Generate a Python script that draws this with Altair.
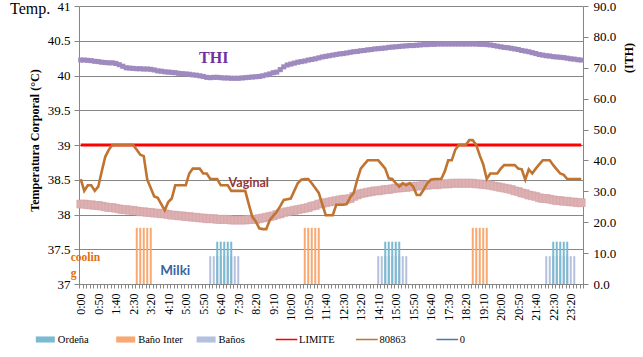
import altair as alt
import pandas as pd

# ---------------- data ----------------
times = [f"{h}:{m:02d}" for h in range(24) for m in range(0, 60, 10)]
shown_labels = times[::5]

thi = [
    72.5, 72.5, 72.4, 72.3, 72.1, 72.0,
    71.8, 71.7, 71.6, 71.6, 71.4, 71.0, 70.5,
    70.0, 69.9, 69.8, 69.7, 69.7, 69.6, 69.6,
    69.5, 69.3, 69.0, 68.9, 68.7, 68.6, 68.5, 68.4, 68.2,
    68.1, 68.0, 67.9, 67.7, 67.6, 67.4, 67.2,
    66.9, 66.8, 66.9, 66.9, 66.8, 66.7, 66.7, 66.6, 66.6,
    66.6, 66.7, 66.8, 66.9, 67.0, 67.1,
    67.2, 67.4, 67.7, 68.0,
    68.4, 68.6, 69.4, 70.3,
    70.9, 71.2, 71.5, 71.8, 72.0, 72.2, 72.5,
    72.7, 72.9, 73.2, 73.5, 73.7, 73.9, 74.1, 74.3,
    74.5, 74.6, 74.8, 75.0, 75.2, 75.3, 75.5, 75.6,
    75.8, 75.9, 76.1, 76.2,
    76.3, 76.4, 76.6, 76.7, 76.8, 76.9,
    77.0, 77.1, 77.2, 77.2, 77.3, 77.4, 77.5, 77.5, 77.6, 77.6, 77.7,
    77.7, 77.7, 77.7, 77.7, 77.7, 77.7, 77.7, 77.7, 77.7, 77.7,
    77.7, 77.6, 77.6, 77.5,
    77.4, 77.2, 77.0, 76.8, 76.6, 76.5,
    76.3, 76.1, 75.9, 75.6, 75.4,
    75.2, 74.9, 74.6, 74.3,
    74.1, 73.9, 73.8, 73.6, 73.5, 73.4,
    73.3, 73.1, 72.9, 72.8, 72.6, 72.5,
]

pink = [
    38.15, 38.15, 38.14, 38.14, 38.13, 38.13,
    38.12, 38.11, 38.10, 38.10, 38.09,
    38.08, 38.07, 38.07, 38.06, 38.06,
    38.05, 38.04, 38.04, 38.03, 38.03, 38.02, 38.02, 38.01,
    38.01, 38.00, 37.99, 37.99, 37.98, 37.98,
    37.97, 37.97, 37.96, 37.96, 37.95, 37.95, 37.94,
    37.94, 37.94, 37.93, 37.93, 37.93, 37.93, 37.92, 37.92,
    37.92, 37.92, 37.92, 37.93, 37.93, 37.93,
    37.94, 37.95, 37.96,
    37.97, 37.98, 38.00, 38.01, 38.03,
    38.04, 38.05, 38.06, 38.07, 38.08,
    38.09, 38.10, 38.12, 38.13, 38.15, 38.16,
    38.17, 38.18, 38.19, 38.20, 38.21, 38.22, 38.22,
    38.23, 38.26, 38.28,
    38.30, 38.31, 38.32, 38.33, 38.34, 38.34,
    38.35, 38.36, 38.36, 38.37, 38.38, 38.38, 38.39, 38.39,
    38.40, 38.40, 38.41, 38.41, 38.42, 38.42, 38.43, 38.43, 38.43,
    38.44, 38.44, 38.44, 38.45, 38.45, 38.45, 38.45, 38.45,
    38.45, 38.45, 38.44, 38.44, 38.43, 38.43,
    38.42, 38.41, 38.40, 38.39, 38.38, 38.37,
    38.36, 38.34, 38.33, 38.31, 38.30,
    38.28, 38.27, 38.26, 38.24, 38.23, 38.23,
    38.22, 38.21, 38.20, 38.20, 38.19, 38.19,
    38.18, 38.18, 38.17, 38.17,
]

vaginal = [
    38.51, 38.34, 38.42, 38.42, 38.34, 38.40, 38.62, 38.83, 38.93,
    39.00, 39.00, 39.00, 39.00, 39.00, 39.00, 39.00,
    38.93, 38.86, 38.84, 38.50, 38.38, 38.26, 38.24, 38.15, 38.06,
    38.18, 38.23, 38.42, 38.42, 38.42, 38.42, 38.59, 38.66, 38.66, 38.66,
    38.59, 38.59, 38.51, 38.51, 38.51, 38.42, 38.42, 38.42, 38.34, 38.34, 38.34, 38.34, 38.34,
    38.15, 37.97, 37.90, 37.80, 37.79, 37.79, 37.92, 37.98, 38.04, 38.12, 38.21, 38.22, 38.23,
    38.34, 38.45, 38.50, 38.51, 38.51, 38.45, 38.38, 38.31, 38.15, 37.99, 37.99, 37.99, 38.14, 38.14, 38.14, 38.15,
    38.25, 38.31, 38.50, 38.66, 38.72, 38.78, 38.78, 38.78, 38.78, 38.72, 38.66, 38.52, 38.51,
    38.45, 38.40, 38.45, 38.42, 38.45, 38.40, 38.28, 38.28, 38.36, 38.45, 38.50, 38.51, 38.51, 38.51,
    38.62, 38.78, 38.78, 38.93, 39.00, 39.00, 39.00, 39.07, 39.07, 39.00, 38.85, 38.72, 38.51,
    38.59, 38.59, 38.59, 38.66, 38.71, 38.71, 38.71, 38.71, 38.66, 38.65, 38.50, 38.65, 38.59, 38.66,
    38.72, 38.78, 38.78, 38.78, 38.71, 38.65, 38.59, 38.57, 38.51, 38.51, 38.51, 38.51, 38.51,
]

limite = [39.0] * 144

ordena_t = ["6:30", "6:40", "6:50", "7:00", "7:10",
            "14:30", "14:40", "14:50", "15:00", "15:10",
            "22:30", "22:40", "22:50", "23:00", "23:10"]
ordena_v = [13.7, 13.7, 13.7, 13.7, 13.7,
            13.7, 13.7, 13.7, 13.7, 13.7,
            13.7, 13.7, 13.7, 13.7, 13.7]

bano_inter_t = ["2:40", "2:50", "3:00", "3:10", "3:20",
                "10:40", "10:50", "11:00", "11:10", "11:20",
                "18:40", "18:50", "19:00", "19:10", "19:20"]
bano_inter_v = [18.2, 18.2, 18.2, 18.2, 18.2,
                18.2, 18.2, 18.2, 18.2, 18.2,
                18.2, 18.2, 18.2, 18.2, 18.2]

banos_t = ["6:10", "6:20", "6:30", "6:40", "6:50", "7:00", "7:10", "7:20", "7:30",
           "14:10", "14:20", "14:30", "14:40", "14:50", "15:00", "15:10", "15:20", "15:30",
           "22:10", "22:20", "22:30", "22:40", "22:50", "23:00", "23:10", "23:20", "23:30"]
banos_v = [9.0, 9.0, 9.0, 9.0, 9.0, 9.0, 9.0, 9.0, 9.0,
           9.0, 9.0, 9.0, 9.0, 9.0, 9.0, 9.0, 9.0, 9.0,
           9.0, 9.0, 9.0, 9.0, 9.0, 9.0, 9.0, 9.0, 9.0]

legend_names = ["Ordeña", "Baño Inter", "Baños", "LIMITE", "80863", "0"]
legend_colors = ["#7BBAD0", "#F8A870", "#B3C1DE", "#FF0000", "#C0742F", "#4A7AB5"]

assert len(thi) == 144 and len(pink) == 144 and len(vaginal) == 144

df = pd.DataFrame({"t": times, "thi": thi, "pink": pink, "vag": vaginal, "lim": limite})
df_ord = pd.DataFrame({"t": ordena_t, "v": ordena_v})
df_bi = pd.DataFrame({"t": bano_inter_t, "v": bano_inter_v})
df_ban = pd.DataFrame({"t": banos_t, "v": banos_v})
df_leg = pd.DataFrame({"s": legend_names})

# ---------------- styling ----------------
GRAY = "#868686"
SERIF = "Liberation Serif"

label_expr = "indexof(" + str(shown_labels) + ", datum.value) >= 0 ? datum.value : ''"

x_scale = alt.Scale(domain=times, paddingInner=0, paddingOuter=0)
x_axis = alt.Axis(title=None, labelExpr=label_expr, labelAngle=270, labelAlign="right",
                  labelBaseline="middle", labelFont=SERIF, labelFontSize=12,
                  labelColor="#000000", labelPadding=5, tickSize=4, tickColor=GRAY,
                  tickBand="extent", domainColor=GRAY, grid=False, labelOverlap=False)

left_scale = alt.Scale(domain=[37, 41], nice=False, zero=False)
left_axis = alt.Axis(title="Temperatura Corporal (°C)",
                     values=[37, 37.5, 38, 38.5, 39, 39.5, 40, 40.5, 41], format=".1~f",
                     titleFont=SERIF, titleFontSize=12, titleFontWeight="bold",
                     titleColor="#000000", titleAngle=270, titleX=-45, titleY=134,
                     titleAlign="center", titleBaseline="middle",
                     labelFont=SERIF, labelFontSize=13, labelColor="#000000", labelPadding=4,
                     tickSize=5, tickColor=GRAY, domainColor=GRAY,
                     grid=True, gridColor=GRAY, gridWidth=1)

right_scale = alt.Scale(domain=[0, 90], nice=False, zero=True)
right_axis = alt.Axis(orient="right", title="(ITH)", values=list(range(0, 91, 10)), format=".1f",
                      titleFont=SERIF, titleFontSize=12, titleFontWeight="bold",
                      titleColor="#000000", titleAngle=270, titleX=45, titleY=51.5,
                      titleAlign="center", titleBaseline="middle",
                      labelFont=SERIF, labelFontSize=13, labelColor="#000000", labelPadding=5,
                      tickSize=5, tickColor=GRAY, domainColor=GRAY, grid=False)

X = alt.X("t:N", scale=x_scale, axis=x_axis)

# ---------------- left (temperature) layers ----------------
pink_layer = alt.Chart(df).mark_square(size=64, color="#DDB0B2", stroke="#D3A1A4",
                                       strokeWidth=0.5, opacity=1).encode(
    x=X, y=alt.Y("pink:Q", scale=left_scale, axis=left_axis))

lim_layer = alt.Chart(df).mark_line(color="#FF0000", strokeWidth=3).encode(
    x=X, y=alt.Y("lim:Q", scale=left_scale, axis=left_axis))

vag_layer = alt.Chart(df).mark_line(color="#C0742F", strokeWidth=2.6).encode(
    x=X, y=alt.Y("vag:Q", scale=left_scale, axis=left_axis))

one = pd.DataFrame({"a": [0]})


def note(text, t, yv, color, font, size, align="center", dx=0, line_height=None):
    kw = dict(text=text, color=color, font=font, fontSize=size, fontWeight="bold",
              align=align, baseline="middle", dx=dx)
    if line_height is not None:
        kw["lineBreak"] = "\n"
        kw["lineHeight"] = line_height
    return alt.Chart(one).mark_text(**kw).encode(
        x=alt.XDatum(t, type="nominal", scale=x_scale, axis=x_axis),
        y=alt.YDatum(yv, type="quantitative", scale=left_scale, axis=left_axis))


thi_note = note("THI", "6:20", 40.256, "#7030A0", SERIF, 16)
vag_note = note("Vaginal", "8:00", 38.45, "#953735", "Lato", 12.5)
milk_note = note("Milki", "4:30", 37.19, "#3A64A0", "Lato", 13.5)
cool_note = note("coolin\ng", "0:00", 37.37, "#E46C0A", SERIF, 11.5, align="left", dx=-10,
                 line_height=16)

temp_note = alt.Chart(one).mark_text(text="Temp.", font=SERIF, fontSize=16, color="#000000",
                                     align="left", baseline="middle").encode(
    x=alt.value(-69), y=alt.value(3))

left = alt.layer(pink_layer, lim_layer, vag_layer, thi_note, vag_note, milk_note,
                 cool_note, temp_note)

# ---------------- right (ITH) layers ----------------
ban_layer = alt.Chart(df_ban).mark_bar(width=2, color="#B3C1DE").encode(
    x=X, y=alt.Y("v:Q", scale=right_scale, axis=right_axis))
ord_layer = alt.Chart(df_ord).mark_bar(width=2, color="#7BBAD0").encode(
    x=X, y=alt.Y("v:Q", scale=right_scale, axis=right_axis))
bi_layer = alt.Chart(df_bi).mark_bar(width=2, color="#F8A870").encode(
    x=X, y=alt.Y("v:Q", scale=right_scale, axis=right_axis))

thi_layer = alt.Chart(df).mark_square(size=26, color="#9F8AC0", opacity=1).encode(
    x=X, y=alt.Y("thi:Q", scale=right_scale, axis=right_axis))

bar_path = "M-1,-0.32H1V0.32H-1Z"
line_path = "M-1.14,-0.08H1.14V0.08H-1.14Z"
leg = alt.Legend(title=None, orient="none", legendX=-43.2, legendY=324,
                 direction="horizontal", columns=6, symbolSize=361,
                 labelFont=SERIF, labelFontSize=10.5, labelColor="#000000",
                 labelOffset=3, columnPadding=11.4, gridAlign="all", padding=0,
                 symbolStrokeWidth=0, symbolOpacity=1)
legend_layer = alt.Chart(df_leg).mark_point(filled=True, opacity=1).encode(
    color=alt.Color("s:N", scale=alt.Scale(domain=legend_names, range=legend_colors), legend=leg),
    shape=alt.Shape("s:N", scale=alt.Scale(domain=legend_names,
                                           range=[bar_path, bar_path, bar_path,
                                                  line_path, line_path, line_path]),
                    legend=leg),
).transform_filter("false")

right = alt.layer(ban_layer, ord_layer, bi_layer, thi_layer, legend_layer)

chart = alt.layer(left, right).resolve_scale(y="independent").properties(
    width=504, height=278,
    padding={"left": 79, "top": 6, "right": 60, "bottom": 73},
    autosize=alt.AutoSizeParams(type="none"),
    background="white",
).configure_view(stroke=None).configure_axis(
    labelFont=SERIF, titleFont=SERIF
).configure_legend(
    labelFont=SERIF, labelFontSize=10.5, labelColor="#000000"
).configure_text(font=SERIF)

chart.save("out.html", embed_options={"renderer": "svg", "actions": False})
